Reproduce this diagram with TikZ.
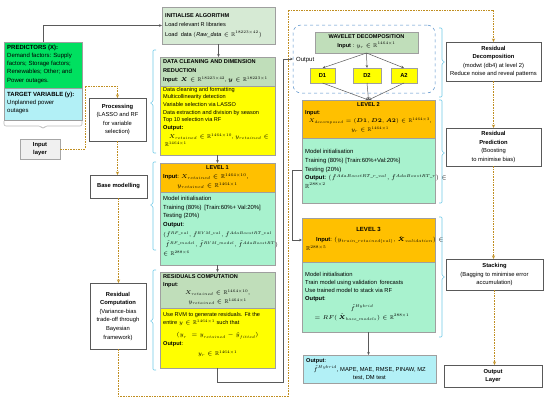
\RequirePackage{fix-cm}
\documentclass[tikz,border=0pt]{standalone}
\usepackage{amsmath,amssymb}
\DeclareFontFamily{U}{msb}{}
\DeclareFontShape{U}{msb}{m}{n}{<->msbm10}{}
\usepackage{fontspec}
\setmainfont{Liberation Sans}
\usetikzlibrary{arrows.meta}

\definecolor{predgreen}{RGB}{0,224,96}
\definecolor{lightcyan}{RGB}{178,240,246}
\definecolor{sage}{RGB}{214,234,212}
\definecolor{sagedark}{RGB}{192,222,186}
\definecolor{yel}{RGB}{255,255,0}
\definecolor{orng}{RGB}{255,192,0}
\definecolor{mint}{RGB}{168,242,206}
\definecolor{gold}{RGB}{192,142,32}
\definecolor{brk}{RGB}{110,200,230}
\definecolor{wavblue}{RGB}{80,140,200}
\definecolor{conn}{RGB}{90,90,90}

\tikzset{
  bx/.style={draw=gray!75, line width=0.4pt, inner sep=0pt, outer sep=0pt, anchor=north west},
  flowbox/.style={draw=black!65, line width=0.6pt, fill=white, inner sep=0pt, outer sep=0pt, align=center, font=\fontsize{5.8}{8.6}\selectfont},
  tx/.style={anchor=north west, inner sep=0pt, align=left, font=\fontsize{5.6}{7.6}\selectfont},
  tc/.style={anchor=north, inner sep=0pt, align=center, font=\fontsize{5.6}{8.6}\selectfont},
  ga/.style={draw=conn, line width=0.5pt, -{Stealth[length=3pt,width=2.6pt]}},
  da/.style={draw=gold, line width=0.8pt, dash pattern=on 1.6pt off 1pt, -{Stealth[length=3.5pt,width=3pt]}},
  brc/.style={draw=brk, line width=0.6pt, rounded corners=1pt},
}

\begin{document}
\begin{tikzpicture}[x=1pt,y=-1pt]
\useasboundingbox (0,0) rectangle (550,402);

% ---------- left column ----------
\node[bx, fill=predgreen, minimum width=78pt, minimum height=46pt] (pred) at (4,42) {};
\node[bx, fill=lightcyan, minimum width=78pt, minimum height=32pt] (tgt) at (4,88) {};
\node[tx, font=\fontsize{6}{8.3}\selectfont] (predt) at (7,44.5) {\textbf{PREDICTORS (X):}\\Demand factors: Supply\\factors; Storage factors;\\Renewables; Other; and\\Power outages.};
\node[tx, font=\fontsize{6}{8.3}\selectfont] (tgtt) at (7,91.5) {\textbf{TARGET VARIABLE (y):}\\Unplanned power\\outages};
\draw[draw=gray!55, line width=0.6pt, rounded corners=2pt] (4,121) -- (4,126) -- (41,126) -- (43,129) -- (45,126) -- (82,126) -- (82,121);

\node[flowbox, fill=gray!12, draw=gray!70, minimum width=40pt, minimum height=20pt] (inl) at (40,149) {\textbf{Input}\\\textbf{layer}};
\node[flowbox, minimum width=57pt, minimum height=43pt] (proc) at (117.5,119.5) {\textbf{Processing}\\(LASSO and RF\\for variable\\selection)};
\node[flowbox, minimum width=57pt, minimum height=23pt] (base) at (118.5,186.5) {\textbf{Base modelling}};
\node[flowbox, minimum width=56pt, minimum height=66pt] (rcomp) at (118,316) {\textbf{Residual}\\\textbf{Computation}\\(Variance-bias\\trade-off through\\Bayesian\\framework)};

% ---------- right column ----------
\node[flowbox, minimum width=95pt, minimum height=39pt] (rd) at (493.5,61.5) {\textbf{Residual}\\\textbf{Decomposition}\\(modwt (db4) at level 2)\\Reduce noise and reveal patterns};
\node[flowbox, minimum width=95pt, minimum height=38pt] (rp) at (493.5,147) {\textbf{Residual}\\\textbf{Prediction}\\(Boosting\\to minimise bias)};
\node[flowbox, minimum width=97pt, minimum height=31pt] (stk) at (494.5,274.5) {\textbf{Stacking}\\(Bagging to minimise error\\accumulation)};
\node[flowbox, minimum width=98pt, minimum height=22pt] (outl) at (493,376) {\textbf{Output}\\\textbf{Layer}};

% ---------- middle column ----------
\node[bx, fill=sage, minimum width=113pt, minimum height=37pt] (init) at (162,7) {};
\node[tx, font=\fontsize{5.6}{9.5}\selectfont] (initt) at (165,13) {\textbf{INITIALISE ALGORITHM}\\Load relevant R libraries\\Load\; data $(\mathit{Raw\_data} \in \mathbb{R}^{18223\times 42})$};

\node[bx, fill=sagedark, minimum width=115pt, minimum height=29pt] (dct) at (160,57) {};
\node[bx, fill=yel, minimum width=115pt, minimum height=69pt] (dcb) at (160,86) {};
\node[tx, font=\fontsize{5.6}{9}\selectfont] (dctt) at (163,59.5) {\textbf{DATA CLEANING AND DIMENSION}\\\textbf{REDUCTION}\\\textbf{Input}: $\boldsymbol{X} \in \mathbb{R}^{18223\times42}$, $\boldsymbol{y} \in \mathbb{R}^{18223\times1}$};
\node[tx] (dcbt) at (163,87) {Data cleaning and formatting\\Multicollinearity detection\\Variable selection via LASSO\\Data extraction and division by season\\Top 10 selection via RF\\\textbf{Output:}\\[2pt]\quad$X_{retained} \in \mathbb{R}^{1464\times10}$, $y_{retained} \in$\\\;$\mathbb{R}^{1464\times1}$};

\node[bx, fill=orng, minimum width=115pt, minimum height=29pt] (l1t) at (160,163) {};
\node[bx, fill=mint, minimum width=115pt, minimum height=73pt] (l1b) at (160,192) {};
\node[tc] (l1h) at (217.5,165) {\textbf{LEVEL 1}};
\node[tx, font=\fontsize{5.8}{8.8}\selectfont] (l1in) at (163,173.5) {\textbf{Input}: $X_{retained} \in \mathbb{R}^{1464\times10}$,\\\hspace{14pt}$y_{retained} \in \mathbb{R}^{1464\times1}$};
\node[tx, font=\fontsize{5.9}{8.4}\selectfont] (l1bt) at (163,196.5) {Model initialisation\\Training (80\%)\, [Train:60\%+ Val:20\%]\\Testing (20\%)\\\textbf{Output}:};
\node[tx, font=\fontsize{5.5}{9.4}\selectfont] (l1bf) at (163,231.5) {$(\hat f^{RF\_val}, \hat f^{RVM\_val}, \hat f^{AdaBoostRT\_val}$\\$\;\hat f^{RF\_model}, \hat f^{RVM\_model}, \hat f^{AdaBoostRT})$\\$\in \mathbb{R}^{288\times6}$};

\node[bx, fill=sagedark, minimum width=115pt, minimum height=36pt] (rct) at (160,272) {};
\node[bx, fill=yel, minimum width=115pt, minimum height=60pt] (rcb) at (160,308) {};
\node[tx, font=\fontsize{5.6}{8}\selectfont] (rctt) at (163,274.5) {\textbf{RESIDUALS COMPUTATION}\\\textbf{Input}:};
\node[tc, font=\fontsize{5.6}{8.8}\selectfont] (rcti) at (217.5,289.5) {$X_{retained} \in \mathbb{R}^{1464\times10}$,\\$y_{retained} \in \mathbb{R}^{1464\times1}$};
\node[tx, font=\fontsize{5.6}{8.3}\selectfont] (rcbt) at (163,312) {Use RVM to generate residuals. Fit the\\entire $y \in \mathbb{R}^{1464\times1}$ such that};
\node[tc] (rcbf) at (217.5,332.5) {$(y_r\; = y_{retained} - \hat y_{fitted})$};
\node[tx] (rcbo) at (163,341) {\textbf{Output}:};
\node[tc] (rcby) at (217.5,350.5) {$y_r \in \mathbb{R}^{1464\times1}$};

% ---------- wavelet area ----------
\node[bx, draw=wavblue, dashed, line width=0.5pt, rounded corners=8pt, minimum width=142pt, minimum height=68pt] (wav) at (293,25) {};
\node[bx, fill=sagedark, minimum width=103pt, minimum height=21pt] (wd) at (315,32) {};
\node[tc, font=\fontsize{5.6}{9}\selectfont] (wdt) at (366.5,34) {\textbf{WAVELET DECOMPOSITION}\\\textbf{Input} : $y_r \in \mathbb{R}^{1464\times1}$};
\node[tx, font=\fontsize{6}{7}\selectfont] (outlab) at (296,57.5) {Output};
\node[bx, fill=yel, minimum width=25pt, minimum height=15pt, font=\fontsize{5.8}{7}\selectfont\bfseries] (d1) at (310,68) {D1};
\node[bx, fill=yel, minimum width=28pt, minimum height=15pt, font=\fontsize{5.8}{7}\selectfont\bfseries] (d2) at (353,68) {D2};
\node[bx, fill=yel, minimum width=26pt, minimum height=15pt, font=\fontsize{5.8}{7}\selectfont\bfseries] (a2) at (391,68) {A2};

\node[bx, fill=orng, minimum width=133pt, minimum height=38pt] (l2t) at (302,100) {};
\node[bx, fill=mint, minimum width=133pt, minimum height=65pt] (l2b) at (302,138) {};
\node[tc] (l2h) at (368.5,102.5) {\textbf{LEVEL 2}};
\node[tx] (l2in) at (305,110.5) {\textbf{Input}:};
\node[tc, font=\fontsize{5.4}{8.8}\selectfont] (l2f) at (370,118) {$X_{decomposed} = (\boldsymbol{D1}, \boldsymbol{D2}, \boldsymbol{A2}) \in \mathbb{R}^{1464\times3}$,\\$y_r \in \mathbb{R}^{1464\times1}$};
\node[tx, font=\fontsize{5.9}{8.6}\selectfont] (l2bt) at (305,149.5) {Model initialisation\\Training (80\%) [Train:60\%+Val:20\%]\\Testing (20\%)\\\textbf{Output}: $(\hat f^{AdaBoostRT\_r\_val}, \hat f^{AdaBoostRT\_r}) \in$\\$\mathbb{R}^{288\times2}$};

\node[bx, fill=orng, minimum width=133pt, minimum height=44pt] (l3t) at (302,218) {};
\node[bx, fill=mint, minimum width=133pt, minimum height=70pt] (l3b) at (302,262) {};
\node[tc, font=\fontsize{6}{8}\selectfont] (l3h) at (368.5,227) {\textbf{LEVEL 3}};
\node[tx, font=\fontsize{5.8}{9}\selectfont] (l3in) at (306,236) {\hspace{10pt}\textbf{Input}: $(y_{train\_retained(val)}, \hat{\boldsymbol{X}}_{validation}) \in$\\$\mathbb{R}^{288\times5}$};
\node[tx, font=\fontsize{5.8}{8}\selectfont] (l3bt) at (305,272.5) {Model initialisation\\Train model using validation\, forecasts\\Use trained model to stack via RF\\\textbf{Output}:};
\node[tc, font=\fontsize{5.6}{9}\selectfont] (l3f) at (362,304.5) {$\hat f^{Hybrid}$\\$= RF(\,\hat{\boldsymbol{X}}_{base\_models}) \in \mathbb{R}^{288\times1}$};

\node[bx, fill=lightcyan, minimum width=133pt, minimum height=28pt] (fo) at (303,355) {};
\node[tx] (fot) at (306,358) {\textbf{Output}:};
\node[tc, font=\fontsize{5.8}{8.4}\selectfont] (fof) at (369.5,365.5) {$\hat f^{Hybrid}$, MAPE, MAE, RMSE, PINAW, MZ\\test, DM test};

% ---------- brackets ----------
\draw[brc] (156,50) -- (153,50) -- (153,101.5) -- (150,103) -- (153,104.5) -- (153,153) -- (156,153);
\draw[brc] (156,162) -- (153,162) -- (153,203.5) -- (150,205) -- (153,206.5) -- (153,250) -- (156,250);
\draw[brc] (156,270) -- (153,270) -- (153,319.5) -- (150,321) -- (153,322.5) -- (153,370) -- (156,370);
\draw[brc] (439,28) -- (442,28) -- (442,60.5) -- (445,62) -- (442,63.5) -- (442,97) -- (439,97);
\draw[brc] (439,100) -- (442,100) -- (442,151.5) -- (445,153) -- (442,154.5) -- (442,203) -- (439,203);
\draw[brc] (439,217) -- (442,217) -- (442,275.5) -- (445,277) -- (442,278.5) -- (442,337) -- (439,337);

% ---------- solid connectors ----------
\draw[ga] (pred.north) |- (init.west);
\draw[ga] (init.south) -- (init.south |- dct.north);
\draw[ga] (dcb.south) -- (l1t.north);
\draw[ga] (l1b.south) -- (rct.north);
\coordinate (g1) at (283,382);
\draw[ga] (rcb.south) |- (g1) |- (wav.west);
\draw[ga] (wd.south) -- (d1.north);
\draw[ga] (wd.south) -- (d2.north);
\draw[ga] (wd.south) -- (a2.north);
\draw[ga] (d1.south) -- (l2t.north);
\draw[ga] (d2.south) -- (l2t.north);
\draw[ga] (a2.south) -- (l2t.north);
\coordinate (g2) at (292,0);
\draw[ga] (l2b.west) -- (g2 |- l2b.west) |- (l3t.west);
\draw[ga] (l3b.south) -- (l3b.south |- fo.north);

% ---------- dashed flow ----------
\coordinate (d0) at (85,86);
\draw[da] (inl.east) -| (d0) -| (proc.north);
\draw[da] (proc.south) -- (proc.south |- base.north);
\draw[da] (base.south) -- (base.south |- rcomp.north);
\coordinate (cb) at (288,396);
\coordinate (ct) at (288,10);
\draw[da] (rcomp.south) |- (cb) -- (ct) -| (rd.north);
\draw[da] (rd.south) -- (rp.north);
\draw[da] (rp.south) -- (rp.south |- stk.north);
\draw[da] (stk.south) -- (stk.south |- outl.north);
\end{tikzpicture}
\end{document}
